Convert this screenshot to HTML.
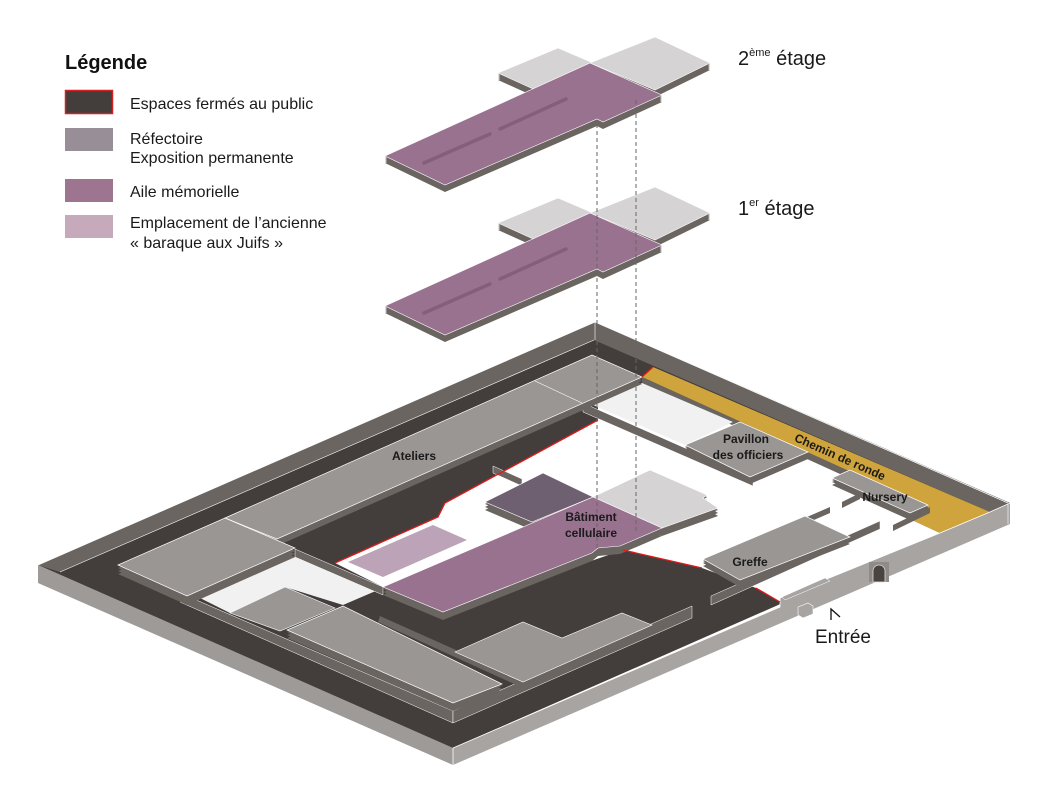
<!DOCTYPE html>
<html><head><meta charset="utf-8"><style>
html,body{margin:0;padding:0;background:#fff;}
svg{display:block;}
.t{font-family:"Liberation Sans",sans-serif;}
.lb{font-family:"Liberation Sans",sans-serif;font-weight:bold;font-size:12px;fill:#1a1a1a;text-anchor:middle;}
</style></head><body>
<svg width="1040" height="800" viewBox="0 0 1040 800" xmlns="http://www.w3.org/2000/svg">
<defs>
<polygon id="g1" points="498,73 558,48 600,66 540,92"/>
<polygon id="g2" points="590,63 655,37 710,63 655,90"/>
<polygon id="p2" points="385,156 590,63 662,95 603,122 597,119 445,185"/>
<polygon id="ate" points="225,518 592,355 642,377 277,539"/>
<polygon id="bb" points="118,565 225,518 295,548 187,596"/>
<polygon id="cc" points="230,613 285,587 335,608 280,631"/>
<polygon id="dd" points="287,630 343,606 502,684 453,703"/>
<polygon id="ee" points="455,652 523,622 562,638 622,613 652,625 523,682"/>
<polygon id="pav" points="685,445 740,422 808,452 750,477"/>
<polygon id="nur" points="832,478 850,470 928,505 910,513"/>
<polygon id="gre" points="703,559 805,516 850,537 740,580"/>
<polygon id="m0" points="485,502 543,473 593,497 532,522"/>
<polygon id="g0" points="593,497 650,470 707,495 703,498 718,508 662,528"/>
<polygon id="p0" points="383,587 593,497 662,528 620,546 598,548 592,553 443,612"/>
</defs>

<!-- Legend -->
<text x="65" y="69" class="t" font-size="20" font-weight="bold" fill="#111">Légende</text>
<rect x="65.5" y="90.5" width="47" height="23" fill="#433e3b" stroke="#d42020" stroke-width="1.5"/>
<rect x="65" y="128" width="48" height="23" fill="#978e97"/>
<rect x="65" y="179" width="48" height="23" fill="#9e7591"/>
<rect x="65" y="215" width="48" height="23" fill="#c6a9bb"/>
<g class="t" font-size="16" fill="#1a1a1a">
<text x="130" y="109">Espaces fermés au public</text>
<text x="130" y="144">Réfectoire</text>
<text x="130" y="163">Exposition permanente</text>
<text x="130" y="197">Aile mémorielle</text>
<text x="130" y="228">Emplacement de l’ancienne</text>
<text x="130" y="248">« baraque aux Juifs »</text>
</g>
<text x="738" y="65" class="t" font-size="20" fill="#1a1a1a">2<tspan font-size="11" dy="-9">ème</tspan><tspan dy="9"> étage</tspan></text>
<text x="738" y="215" class="t" font-size="20" fill="#1a1a1a">1<tspan font-size="11" dy="-9">er</tspan><tspan dy="9"> étage</tspan></text>

<!-- Upper floors -->
<g id="floor">
<use href="#g1" y="7" fill="#6b6561"/><use href="#g1" y="5" fill="#6b6561"/><use href="#g1" y="3" fill="#6b6561"/><use href="#g1" y="1" fill="#6b6561"/>
<use href="#g1" fill="#d5d3d3" stroke="#fff" stroke-width="0.6"/>
<use href="#g2" y="7" fill="#6b6561"/><use href="#g2" y="5" fill="#6b6561"/><use href="#g2" y="3" fill="#6b6561"/><use href="#g2" y="1" fill="#6b6561"/>
<use href="#g2" fill="#d5d3d3" stroke="#fff" stroke-width="0.6"/>
<use href="#p2" y="7" fill="#6b6561"/><use href="#p2" y="5" fill="#6b6561"/><use href="#p2" y="3" fill="#6b6561"/><use href="#p2" y="1" fill="#6b6561"/>
<use href="#p2" fill="#997290" stroke="#fff" stroke-width="0.6"/>
<line x1="424" y1="163" x2="490" y2="134" stroke="#845f7b" stroke-width="3.5" stroke-linecap="round"/>
<line x1="500" y1="129" x2="566" y2="99" stroke="#845f7b" stroke-width="3.5" stroke-linecap="round"/>
</g>
<use href="#floor" y="150"/>

<!-- Base -->
<polygon points="38,565 453,748 453,765 38,583" fill="#9e9a98"/>
<polygon points="38,565 595,322 1010,503 453,748" fill="#433e3b"/>
<polygon points="38,565 595,322 1008,503 990,512 594,340 60,572" fill="#6b6561"/>
<line x1="38" y1="565" x2="595" y2="322" stroke="#fff" stroke-width="0.8"/>
<line x1="595" y1="322" x2="1008" y2="503" stroke="#fff" stroke-width="0.8"/>
<line x1="60" y1="572" x2="594" y2="340" stroke="#fff" stroke-width="0.6"/>
<line x1="595" y1="322" x2="595" y2="340" stroke="#fff" stroke-width="0.6"/>

<!-- white courtyard -->
<polygon points="335,563 438,517 445,503 598,420 598,405 642,383 928,507 912,520 940,533 780,598 781,603 756,588 702,568 623,550 443,612 383,587" fill="#fff"/>
<!-- yellow chemin de ronde -->
<polygon points="642,377 653,367 990,512 940,533 912,520 928,507" fill="#d0a43c"/>
<polygon points="642,377 928,507 928,514 642,384" fill="#6b6561"/>
<!-- light areas -->
<polygon points="593,405 642,383 733,422 685,445" fill="#f1f1f1"/>
<polygon points="200,598 295,557 378,590 343,605 285,587 230,613" fill="#f1f1f1"/>
<polygon points="348,562 433,525 467,540 383,577" fill="#bca3b7"/>

<!-- walls strips -->
<polygon points="583,403 753,478 753,486 583,412" fill="#6b6561" stroke="#fff" stroke-width="0.5"/>
<polygon points="295,549 383,587 383,595 295,557" fill="#6b6561" stroke="#fff" stroke-width="0.5"/>
<polygon points="187,596 453,711 453,723 180,602" fill="#6b6561" stroke="#fff" stroke-width="0.5"/>
<polygon points="453,711 692,606 692,618 453,723" fill="#6b6561" stroke="#fff" stroke-width="0.5"/>
<polygon points="380,616 523,680 523,688 378,622" fill="#6b6561"/>
<polygon points="711,596 880,521 880,529 711,605" fill="#6b6561" stroke="#fff" stroke-width="0.5"/>
<polygon points="493,466 522,479 522,486 493,473" fill="#6b6561" stroke="#fff" stroke-width="0.5"/>
<polygon points="842,502 860,493 860,499 842,508" fill="#6b6561"/>
<polygon points="807,517 830,507 830,513 807,523" fill="#6b6561"/>
<polygon points="893,525 930,507 930,513 893,531" fill="#6b6561"/>

<!-- gray buildings -->
<use href="#ate" y="7" fill="#6b6561"/><use href="#ate" y="4" fill="#6b6561"/><use href="#ate" y="2" fill="#6b6561"/>
<use href="#ate" fill="#9a9694" stroke="#fff" stroke-width="0.7"/>
<line x1="535" y1="381" x2="582" y2="403" stroke="#fff" stroke-width="0.6"/>
<use href="#bb" y="9" fill="#6b6561"/><use href="#bb" y="6" fill="#6b6561"/><use href="#bb" y="3" fill="#6b6561"/>
<use href="#bb" fill="#9a9694" stroke="#fff" stroke-width="0.7"/>
<use href="#cc" fill="#9a9694" stroke="#fff" stroke-width="0.6"/>
<use href="#dd" y="8" fill="#6b6561"/><use href="#dd" y="5" fill="#6b6561"/><use href="#dd" y="2" fill="#6b6561"/>
<use href="#dd" fill="#9a9694" stroke="#fff" stroke-width="0.7"/>
<use href="#ee" fill="#9a9694" stroke="#fff" stroke-width="0.6"/>
<use href="#pav" y="7" fill="#6b6561"/><use href="#pav" y="4" fill="#6b6561"/><use href="#pav" y="2" fill="#6b6561"/>
<use href="#pav" fill="#9a9694" stroke="#fff" stroke-width="0.7"/>
<use href="#nur" y="7" fill="#6b6561"/><use href="#nur" y="4" fill="#6b6561"/><use href="#nur" y="2" fill="#6b6561"/>
<use href="#nur" fill="#9a9694" stroke="#fff" stroke-width="0.7"/>
<use href="#gre" y="7" fill="#6b6561"/><use href="#gre" y="4" fill="#6b6561"/><use href="#gre" y="2" fill="#6b6561"/>
<use href="#gre" fill="#9a9694" stroke="#fff" stroke-width="0.7"/>
<use href="#m0" y="8" fill="#6b6561"/><use href="#m0" y="5" fill="#6b6561"/><use href="#m0" y="2" fill="#6b6561"/>
<use href="#m0" fill="#6f6071" stroke="#fff" stroke-width="0.6"/>
<use href="#g0" y="8" fill="#6b6561"/><use href="#g0" y="5" fill="#6b6561"/><use href="#g0" y="2" fill="#6b6561"/>
<use href="#g0" fill="#d5d3d3" stroke="#fff" stroke-width="0.6"/>
<use href="#p0" y="8" fill="#6b6561"/><use href="#p0" y="5" fill="#6b6561"/><use href="#p0" y="2" fill="#6b6561"/>
<use href="#p0" fill="#997290" stroke="#fff" stroke-width="0.6"/>

<!-- front right wall -->
<polygon points="1010,503 1010,524 453,765 453,748 780,607 780,598 940,533 990,512" fill="#a8a4a2"/>
<polyline points="453,748 780,607 780,598 940,533 990,512 1010,503" fill="none" stroke="#fff" stroke-width="0.8"/>
<line x1="453" y1="748" x2="453" y2="765" stroke="#fff" stroke-width="0.8"/>
<line x1="1008" y1="504" x2="1008" y2="524" stroke="#fff" stroke-width="0.6"/>
<polygon points="782,597 825,578 830,581 785,600" fill="#a8a4a2" stroke="#fff" stroke-width="0.5"/>
<rect x="869" y="562" width="20" height="20" fill="#8f8b89"/>
<path d="M873,582 V571 A6,6 0 0 1 885,571 V582 Z" fill="#4a4441" stroke="#ddd" stroke-width="0.8"/>
<polygon points="798,607 808,603 813,606 813,614 803,618 798,615" fill="#a8a4a2" stroke="#fff" stroke-width="0.6"/>

<!-- red lines -->
<g stroke="#e01b1b" stroke-width="1.3" fill="none">
<polyline points="335,563 438,517 445,503 598,420"/>
<line x1="642" y1="377" x2="653" y2="367"/>
<line x1="623" y1="550" x2="702" y2="568"/>
<line x1="756" y1="588" x2="780" y2="602"/>
</g>

<!-- dashed -->
<g stroke="#666" stroke-width="1" stroke-dasharray="4,3">
<line x1="597" y1="124" x2="597" y2="553"/>
<line x1="636" y1="100" x2="636" y2="533"/>
</g>

<!-- labels -->
<text x="414" y="460" class="lb">Ateliers</text>
<text x="746" y="443" class="lb">Pavillon</text>
<text x="748" y="459" class="lb">des officiers</text>
<text x="885" y="501" class="lb">Nursery</text>
<text x="750" y="566" class="lb">Greffe</text>
<text x="591" y="521" class="lb">Bâtiment</text>
<text x="591" y="537" class="lb">cellulaire</text>
<text x="840" y="461" class="lb" transform="rotate(24 840 457)">Chemin de ronde</text>
<polyline points="831,620 831,609 840,617" fill="none" stroke="#111" stroke-width="1.3"/>
<text x="843" y="643" class="t" font-size="19" fill="#1a1a1a" text-anchor="middle">Entrée</text>
</svg>
</body></html>
